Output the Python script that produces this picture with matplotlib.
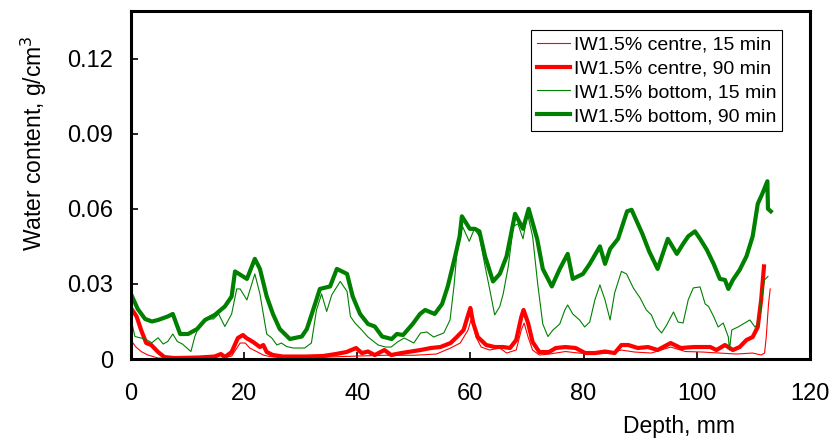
#!/usr/bin/env python
# -*- coding: utf-8 -*-

"""
water content profiles, IW1.5% centre / bottom after 15 and 90 min.
"""

import matplotlib
matplotlib.use('Agg')
import matplotlib.pyplot as plt

# centre, 15 min
depth_c15 = [0, 0.8, 1.8, 3, 4.8, 8, 12, 16, 17.8, 18.9, 19.3, 20.2, 21, 22.2, 23.4, 24.5, 27, 30,
             35, 40, 45, 50, 54, 56.5, 58.2, 59.6, 60.2, 61, 61.9, 63.4, 65.2, 66.4, 68.1, 69, 69.5,
             70.2, 71, 72.2, 74, 76.8, 79.1, 82, 84.5, 86.7, 89, 92, 95.4, 98, 101, 104, 107, 109.9,
             111.4, 112, 112.3, 112.7, 113]
wc_c15 = [0.0076, 0.005, 0.003, 0.0016, 0.0004, 0.0002, 0.0003, 0.0003, 0.0012, 0.005, 0.0064, 0.0064,
          0.0044, 0.003, 0.0016, 0.001, 0.0005, 0.0005, 0.0008, 0.0012, 0.0015, 0.0015, 0.002, 0.0044,
          0.0064, 0.0116, 0.0164, 0.0088, 0.0048, 0.0036, 0.0044, 0.0024, 0.0036, 0.0116, 0.0144,
          0.0088, 0.0036, 0.0016, 0.002, 0.003, 0.0024, 0.002, 0.0024, 0.0036, 0.0028, 0.0024, 0.0048,
          0.003, 0.0028, 0.0024, 0.002, 0.0024, 0.0016, 0.0024, 0.0088, 0.022, 0.028]

# centre, 90 min
depth_c90 = [0, 1, 1.8, 2.7, 3.6, 4.8, 5.9, 7.6, 10, 12, 14.8, 15.9, 16.6, 17.8, 18.9, 19.8, 20.4,
             21.6, 22.8, 23.4, 24, 25.1, 26.9, 28.7, 30.9, 33.9, 36.2, 38.1, 39.8, 40.8, 41.9, 43.1,
             44.8, 46, 47.8, 49.5, 51.2, 53, 54.7, 56.5, 57.6, 58.8, 59.6, 60, 60.5, 61.3, 62.8, 64.3,
             65.8, 67, 68.1, 69, 69.4, 70.2, 71, 72.2, 73.9, 75.1, 76.8, 78.6, 80.3, 82, 83.8, 85.5,
             86.7, 87.9, 89.6, 91.4, 93.1, 95.4, 97.2, 99.5, 100.6, 102.4, 103.5, 105, 106.4, 107.6,
             108.8, 109.9, 110.8, 111.4, 111.9]
wc_c90 = [0.0204, 0.017, 0.0116, 0.0064, 0.0056, 0.0028, 0.0008, 0.0004, 0.0005, 0.0006, 0.001, 0.002,
          0.0008, 0.0028, 0.0084, 0.0096, 0.0084, 0.0068, 0.0048, 0.0056, 0.0028, 0.0016, 0.001,
          0.001, 0.001, 0.0012, 0.002, 0.0028, 0.0044, 0.0024, 0.003, 0.0016, 0.0036, 0.0016, 0.0024,
          0.003, 0.0036, 0.0044, 0.0048, 0.0064, 0.0088, 0.0116, 0.0176, 0.0204, 0.0144, 0.0088,
          0.0056, 0.0048, 0.0048, 0.0044, 0.0076, 0.0168, 0.0196, 0.0144, 0.0068, 0.0028, 0.0028,
          0.0044, 0.0048, 0.0044, 0.0024, 0.0024, 0.003, 0.0024, 0.0056, 0.0056, 0.0044, 0.0048,
          0.0036, 0.0064, 0.0044, 0.0048, 0.0048, 0.0048, 0.0036, 0.0056, 0.0036, 0.0048, 0.0076,
          0.0088, 0.0128, 0.0236, 0.037]

# bottom, 15 min
depth_b15 = [0, 0.7, 2.5, 3.7, 4.8, 5.7, 6.5, 7.4, 8.2, 9.1, 10.1, 10.6, 11.3, 12.2, 13.4, 14.6, 15.5,
             16.6, 17.8, 18.7, 19.3, 20.5, 21.9, 22.8, 23.4, 24, 24.9, 25.8, 26.6, 27.5, 28.7, 30.7,
             31.9, 32.8, 33.7, 34.6, 35.5, 37, 38.2, 38.8, 39.6, 40.8, 41.9, 43.7, 45, 46, 47.1, 48.3,
             50, 51.2, 52.3, 53.5, 55.3, 56.4, 57.1, 57.6, 58.6, 59.8, 60.7, 61.6, 62.6, 63.4, 64.3,
             65.2, 65.8, 66.7, 67.6, 68.4, 69.3, 70.1, 71, 71.9, 72.8, 73.7, 74.6, 75.8, 76.7, 77.2,
             78.1, 79.3, 80.2, 81.1, 82, 82.9, 83.8, 84.7, 85.5, 86.7, 87.6, 88.8, 90, 91.1, 92, 92.9,
             93.8, 94.7, 95.9, 96.7, 97.6, 98.5, 99.4, 100.6, 101.5, 102.1, 103, 103.8, 104.7, 105.6,
             105.8, 106.2, 107.3, 108.5, 109.4, 110.3, 111, 111.4, 112, 112.6]
wc_b15 = [0.016, 0.009, 0.008, 0.0065, 0.0085, 0.006, 0.007, 0.010, 0.007, 0.006, 0.004, 0.003, 0.009,
          0.014, 0.016, 0.016, 0.018, 0.013, 0.018, 0.028, 0.028, 0.0236, 0.034, 0.026, 0.018, 0.010,
          0.0084, 0.0056, 0.0064, 0.005, 0.0044, 0.0044, 0.0064, 0.0196, 0.026, 0.019, 0.0256, 0.031,
          0.027, 0.017, 0.0144, 0.0116, 0.0088, 0.0056, 0.0048, 0.0048, 0.0068, 0.0084, 0.0064,
          0.0104, 0.0108, 0.0088, 0.0104, 0.0156, 0.029, 0.042, 0.053, 0.047, 0.052, 0.049, 0.037,
          0.028, 0.0176, 0.021, 0.026, 0.037, 0.053, 0.054, 0.048, 0.058, 0.049, 0.030, 0.014, 0.009,
          0.0116, 0.014, 0.0196, 0.0216, 0.018, 0.0156, 0.0128, 0.0148, 0.0236, 0.0296, 0.0236,
          0.0156, 0.0264, 0.035, 0.034, 0.0284, 0.0244, 0.0196, 0.0176, 0.0128, 0.0104, 0.0136,
          0.0188, 0.0148, 0.0144, 0.0236, 0.0284, 0.0288, 0.022, 0.021, 0.017, 0.0128, 0.0144,
          0.0088, 0.0036, 0.0116, 0.0128, 0.0144, 0.0156, 0.0128, 0.0144, 0.0236, 0.0316, 0.033]

# bottom, 90 min
depth_b90 = [0, 1.2, 2.5, 3.7, 4.8, 6.5, 7.4, 8.7, 10.1, 11.7, 13.1, 14.8, 16.6, 17.8, 18.4, 19.8,
             20.5, 21.9, 22.8, 24, 25.1, 26.3, 28.1, 30.2, 31.1, 32.2, 33.4, 35.2, 36.4, 38.2, 39.2,
             40.5, 41.9, 43.1, 44.4, 46.1, 47, 48.1, 49.8, 51.1, 52, 53.7, 55, 56, 57.3, 58.1, 58.5,
             59.9, 60.8, 61.6, 62.6, 64, 65.2, 66.4, 67.9, 69.3, 70.3, 71.8, 72.8, 74.4, 75.8, 77.2,
             78.1, 79.9, 81.1, 82.9, 83.8, 84.7, 86.1, 87.7, 88.5, 90.4, 91.6, 93.1, 94.9, 96.5, 97.6,
             98.5, 99.7, 100.6, 101.8, 103, 104.1, 105, 105.6, 106.4, 107.6, 108.8, 109.9, 110.8,
             111.6, 112.5, 112.6, 113.1]
wc_b90 = [0.026, 0.020, 0.016, 0.015, 0.0156, 0.017, 0.018, 0.010, 0.010, 0.012, 0.0156, 0.0176,
          0.021, 0.025, 0.035, 0.033, 0.032, 0.040, 0.036, 0.025, 0.018, 0.012, 0.008, 0.009, 0.012,
          0.0196, 0.028, 0.029, 0.036, 0.034, 0.025, 0.018, 0.014, 0.013, 0.009, 0.008, 0.010,
          0.0096, 0.014, 0.018, 0.0196, 0.018, 0.022, 0.029, 0.041, 0.049, 0.057, 0.052, 0.052,
          0.051, 0.041, 0.031, 0.034, 0.041, 0.058, 0.052, 0.060, 0.048, 0.036, 0.029, 0.036, 0.042,
          0.032, 0.034, 0.038, 0.045, 0.038, 0.044, 0.048, 0.059, 0.0596, 0.050, 0.043, 0.036,
          0.048, 0.042, 0.046, 0.049, 0.051, 0.048, 0.0436, 0.038, 0.032, 0.0316, 0.028, 0.0316,
          0.0356, 0.041, 0.049, 0.062, 0.066, 0.071, 0.060, 0.059]

series = [
    (depth_c15, wc_c15, 'IW1.5% centre, 15 min', 'red', 0.8),
    (depth_c90, wc_c90, 'IW1.5% centre, 90 min', 'red', 3.0),
    (depth_b15, wc_b15, 'IW1.5% bottom, 15 min', 'green', 0.8),
    (depth_b90, wc_b90, 'IW1.5% bottom, 90 min', 'green', 3.0),
]

plt.rcParams['font.family'] = ['Liberation Sans', 'DejaVu Sans']

fig = plt.figure(figsize=(8.34, 4.40), dpi=100)
ax = fig.add_axes([0.157, 0.184, 0.814, 0.791])

for d, w, lab, col, lw in series:
    ax.plot(d, w, color=col, lw=lw, label=lab, solid_joinstyle='round')

ax.set_xlim(0, 120)
ax.set_ylim(0, 0.139)
ax.set_xticks([0, 20, 40, 60, 80, 100, 120])
ax.set_yticks([0, 0.03, 0.06, 0.09, 0.12])
ax.set_yticklabels(['0', '0.03', '0.06', '0.09', '0.12'])

for sp in ax.spines.values():
    sp.set_linewidth(2.2)
ax.tick_params(direction='in', length=5, width=1.2, labelsize=17)
ax.tick_params(axis='x', pad=17)
ax.tick_params(axis='y', pad=13)

ax.set_xlabel('Depth, mm', fontsize=16.5)
ax.xaxis.set_label_coords(0.808, -0.16)
ax.set_ylabel('Water content, g/cm$^3$', fontsize=16.5)
ax.yaxis.set_label_coords(-0.12, 0.62)

leg = ax.legend(loc='upper right', bbox_to_anchor=(0.959, 0.945), fontsize=14,
                frameon=True, fancybox=False, framealpha=1, edgecolor='black',
                handlelength=1.7, handletextpad=0.2, labelspacing=0.32, borderpad=0.3,
                borderaxespad=0)
leg.get_frame().set_linewidth(0.8)

fig.savefig('out.png', dpi=100)
